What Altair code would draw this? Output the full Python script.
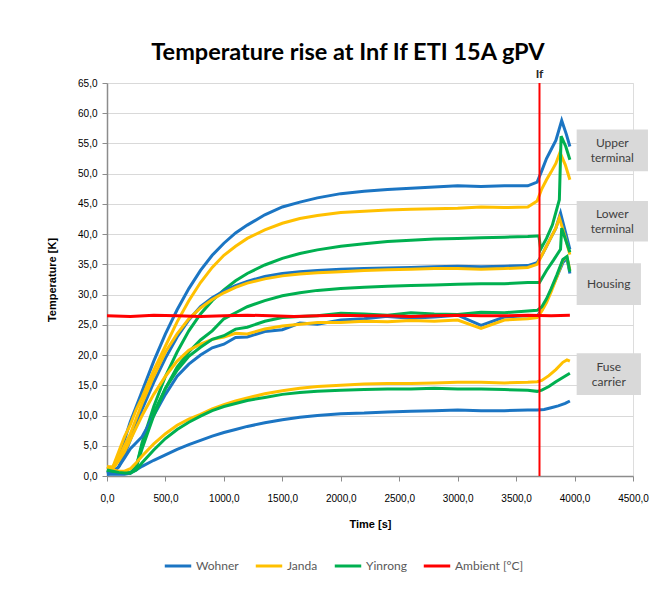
import altair as alt
import pandas as pd

# ---------------- data ----------------
T = [0, 50, 100, 150, 200, 250, 300, 400, 500, 600, 700, 800, 900, 1000, 1100,
     1200, 1350, 1500, 1650, 1800, 2000, 2200, 2400, 2600, 2800, 3000, 3200, 3400, 3600, 3680]

wohner_upper = [0.5, 1.0, 3.5, 6.0, 9.0, 11.5, 14.0, 19.0, 23.5, 27.5, 31.0, 34.0, 36.5, 38.5, 40.2,
                41.5, 43.2, 44.5, 45.3, 46.0, 46.7, 47.1, 47.4, 47.6, 47.8, 48.0, 47.9, 48.0, 48.0, 48.6]
janda_upper = [1.5, 1.5, 4.0, 6.5, 8.5, 11.0, 13.0, 17.5, 21.5, 25.5, 29.0, 32.0, 34.5, 36.5, 38.0,
               39.3, 40.7, 41.8, 42.6, 43.1, 43.6, 43.8, 44.0, 44.1, 44.2, 44.3, 44.5, 44.4, 44.5, 45.5]
yinrong_upper = [1.0, 0.8, 0.6, 0.5, 0.5, 1.5, 5.5, 11.5, 16.5, 20.5, 24.0, 26.8, 29.0, 30.8, 32.3,
                 33.5, 34.9, 36.0, 36.8, 37.4, 38.0, 38.4, 38.8, 39.0, 39.2, 39.3, 39.4, 39.5, 39.6, 39.7]

wohner_lower = [0.5, 0.8, 1.5, 3.5, 6.0, 8.5, 11.0, 15.5, 19.5, 23.0, 25.8, 28.0, 29.5, 30.6, 31.5,
                32.2, 33.0, 33.5, 33.8, 34.0, 34.2, 34.3, 34.4, 34.5, 34.6, 34.7, 34.6, 34.7, 34.8, 35.3]
janda_lower = [1.5, 1.5, 3.0, 5.0, 7.0, 9.5, 12.0, 16.5, 20.5, 23.5, 26.0, 27.8, 29.2, 30.3, 31.2,
               31.9, 32.6, 33.1, 33.4, 33.6, 33.8, 34.0, 34.1, 34.2, 34.3, 34.3, 34.2, 34.3, 34.5, 35.0]
yinrong_lower = [1.0, 0.8, 0.6, 0.5, 0.5, 1.5, 5.0, 10.5, 14.5, 18.0, 20.5, 22.5, 24.0, 26.0, 27.0,
                 28.0, 29.0, 29.8, 30.3, 30.7, 31.0, 31.2, 31.4, 31.5, 31.6, 31.7, 31.8, 31.8, 32.0, 32.0]

wohner_housing = [0.3, 0.5, 1.5, 3.0, 4.5, 5.5, 6.5, 10.0, 13.5, 16.5, 18.5, 20.0, 21.2, 21.8, 22.9,
                  23.0, 23.9, 24.2, 25.3, 25.1, 25.8, 26.0, 26.4, 26.1, 26.3, 26.6, 24.9, 26.3, 26.5, 26.4]
janda_housing = [1.5, 1.2, 2.5, 4.0, 6.0, 8.0, 10.0, 13.5, 16.5, 19.0, 20.8, 21.8, 22.6, 23.0, 23.6,
                 23.5, 24.3, 24.8, 25.1, 25.4, 25.4, 25.6, 25.5, 25.7, 25.6, 25.8, 24.4, 25.8, 26.0, 26.2]
yinrong_housing = [1.0, 0.8, 0.6, 0.5, 0.5, 1.5, 4.5, 10.0, 14.5, 17.5, 19.8, 21.3, 22.6, 23.2, 24.3,
                   24.6, 25.6, 26.2, 26.4, 26.5, 26.9, 26.8, 26.6, 27.0, 26.8, 26.7, 27.1, 27.0, 27.3, 27.4]

wohner_fuse = [0.3, 0.3, 0.3, 0.3, 0.5, 1.0, 1.6, 2.6, 3.5, 4.4, 5.2, 5.9, 6.6, 7.2, 7.7,
               8.2, 8.8, 9.3, 9.7, 10.0, 10.3, 10.4, 10.6, 10.7, 10.8, 10.9, 10.8, 10.8, 10.9, 10.9]
janda_fuse = [1.5, 1.0, 0.8, 0.8, 1.2, 2.2, 3.3, 5.3, 7.0, 8.4, 9.4, 10.2, 11.1, 11.8, 12.4,
              12.9, 13.6, 14.1, 14.5, 14.8, 15.0, 15.2, 15.3, 15.3, 15.4, 15.5, 15.5, 15.4, 15.5, 15.6]
yinrong_fuse = [1.0, 0.8, 0.6, 0.5, 0.5, 1.0, 2.2, 4.3, 6.2, 7.7, 8.9, 9.9, 10.8, 11.5, 12.0,
                12.5, 13.0, 13.5, 13.8, 14.0, 14.2, 14.3, 14.4, 14.4, 14.5, 14.4, 14.4, 14.3, 14.2, 14.0]

# after the If current is applied
wohner_upper_after_t = [3720, 3760, 3800, 3840, 3890, 3930, 3960]
wohner_upper_after_v = [50.5, 52.5, 54.0, 55.5, 58.8, 56.5, 54.5]
janda_upper_after_t = [3720, 3760, 3800, 3840, 3875, 3920, 3960]
janda_upper_after_v = [47.5, 49.0, 50.3, 51.7, 53.5, 51.5, 49.0]
yinrong_upper_after_t = [3695, 3710, 3760, 3810, 3870, 3885, 3925, 3960]
yinrong_upper_after_v = [39.7, 37.5, 39.3, 41.5, 45.7, 56.2, 54.5, 52.3]
wohner_lower_after_t = [3720, 3760, 3800, 3840, 3880, 3920, 3960]
wohner_lower_after_v = [36.5, 38.0, 39.5, 41.0, 43.5, 40.5, 37.5]
janda_lower_after_t = [3720, 3760, 3800, 3840, 3870, 3920, 3960]
janda_lower_after_v = [36.5, 38.0, 39.5, 41.0, 42.7, 39.5, 36.6]
yinrong_lower_after_t = [3700, 3760, 3820, 3880, 3890, 3925, 3960]
yinrong_lower_after_v = [32.0, 34.0, 35.7, 37.5, 41.0, 39.0, 37.0]
wohner_housing_after_t = [3720, 3760, 3800, 3850, 3900, 3935, 3960]
wohner_housing_after_v = [27.5, 29.0, 30.8, 33.0, 35.3, 36.0, 33.5]
janda_housing_after_t = [3720, 3760, 3800, 3850, 3900, 3935, 3960]
janda_housing_after_v = [27.3, 28.7, 30.5, 33.0, 35.7, 36.2, 34.0]
yinrong_housing_after_t = [3720, 3760, 3800, 3850, 3900, 3935, 3960]
yinrong_housing_after_v = [28.0, 29.3, 31.0, 33.3, 35.8, 36.3, 33.8]
wohner_fuse_after_t = [3740, 3800, 3860, 3920, 3960]
wohner_fuse_after_v = [11.0, 11.3, 11.6, 12.0, 12.4]
janda_fuse_after_t = [3720, 3780, 3840, 3900, 3935, 3960]
janda_fuse_after_v = [15.8, 16.6, 17.6, 18.8, 19.2, 19.0]
yinrong_fuse_after_t = [3720, 3780, 3840, 3900, 3960]
yinrong_fuse_after_v = [14.2, 14.8, 15.6, 16.3, 17.0]

ambient_t = [0, 200, 400, 600, 800, 1000, 1200, 1400, 1600, 1800, 2000, 2200, 2400,
             2600, 2800, 3000, 3200, 3400, 3600, 3800, 3960]
ambient_v = [26.5, 26.4, 26.6, 26.5, 26.4, 26.5, 26.6, 26.5, 26.4, 26.5, 26.6, 26.5,
             26.5, 26.4, 26.5, 26.6, 26.5, 26.5, 26.6, 26.5, 26.6]

if_time = [3700]
if_label = ["If"]

series_names = ["Wohner", "Janda", "Yinrong", "Ambient [°C]"]
series_colors = ["#1B75C3", "#FFC000", "#00B050", "#FF0000"]

ann_labels = ["Upper\nterminal", "Lower\nterminal", "Housing", "Fuse\ncarrier"]
ann_top = [57.3, 45.5, 35.2, 20.3]
ann_bottom = [50.4, 38.8, 28.3, 13.4]
ann_left = [4018, 4018, 4018, 4018]
ann_right = [4628, 4628, 4568, 4568]

x_ticks = [0, 500, 1000, 1500, 2000, 2500, 3000, 3500, 4000, 4500]
y_ticks = [0, 5, 10, 15, 20, 25, 30, 35, 40, 45, 50, 55, 60, 65]

# ---------------- table ----------------
curves = [
    ("Wohner", "upper", wohner_upper, wohner_upper_after_t, wohner_upper_after_v),
    ("Janda", "upper", janda_upper, janda_upper_after_t, janda_upper_after_v),
    ("Yinrong", "upper", yinrong_upper, yinrong_upper_after_t, yinrong_upper_after_v),
    ("Wohner", "lower", wohner_lower, wohner_lower_after_t, wohner_lower_after_v),
    ("Janda", "lower", janda_lower, janda_lower_after_t, janda_lower_after_v),
    ("Yinrong", "lower", yinrong_lower, yinrong_lower_after_t, yinrong_lower_after_v),
    ("Wohner", "housing", wohner_housing, wohner_housing_after_t, wohner_housing_after_v),
    ("Janda", "housing", janda_housing, janda_housing_after_t, janda_housing_after_v),
    ("Yinrong", "housing", yinrong_housing, yinrong_housing_after_t, yinrong_housing_after_v),
    ("Wohner", "fuse", wohner_fuse, wohner_fuse_after_t, wohner_fuse_after_v),
    ("Janda", "fuse", janda_fuse, janda_fuse_after_t, janda_fuse_after_v),
    ("Yinrong", "fuse", yinrong_fuse, yinrong_fuse_after_t, yinrong_fuse_after_v),
]
rows = []
for maker, part, vals, at, av in curves:
    for t, v in zip(T + at, vals + av):
        rows.append({"t": t, "v": v, "series": maker, "curve": maker + "-" + part})
df = pd.DataFrame(rows)
amb = pd.DataFrame({"t": ambient_t, "v": ambient_v, "series": "Ambient [°C]", "curve": "ambient"})
ifdf = pd.DataFrame({"t": if_time, "label": if_label, "lo": [0], "hi": [65]})
ann = pd.DataFrame({"label": ann_labels, "y1": ann_top, "y2": ann_bottom,
                    "x1": ann_left, "x2": ann_right})

FONT = "Lato"
fmt = "replace(format(datum.value, '.1f'), '.', ',')"

xs = alt.Scale(domain=[0, 4500], nice=False)
ys = alt.Scale(domain=[0, 65], nice=False)
color = alt.Color("series:N",
                  scale=alt.Scale(domain=series_names, range=series_colors),
                  legend=alt.Legend(title=None, orient="none", direction="horizontal",
                                    legendX=56, legendY=468, symbolType="stroke",
                                    symbolStrokeWidth=3, symbolSize=700, columnPadding=10,
                                    labelFont=FONT, labelFontSize=12, labelColor="#595959",
                                    labelOffset=3))

x_axis = alt.Axis(values=x_ticks, labelExpr=fmt, title="Time [s]",
                  grid=False, tickSize=5, labelPadding=12, titlePadding=15,
                  labelOverlap=False, labelFlush=False,
                  domainColor="#8C8C8C", tickColor="#8C8C8C", domainWidth=1.5)
y_axis = alt.Axis(values=y_ticks, labelExpr=fmt, title="Temperature [K]",
                  grid=True, gridColor="#D9D9D9", tickSize=5, labelPadding=5, titlePadding=20,
                  labelOverlap=False, labelFlush=False,
                  domainColor="#8C8C8C", tickColor="#8C8C8C", domainWidth=1.5)


def X(field):
    return alt.X(field, scale=xs, axis=x_axis)


def Y(field):
    return alt.Y(field, scale=ys, axis=y_axis)


lines = alt.Chart(df).mark_line(strokeWidth=3).encode(
    x=X("t:Q"), y=Y("v:Q"), color=color, detail="curve:N", order="t:Q",
)
amb_line = alt.Chart(amb).mark_line(strokeWidth=3).encode(
    x=X("t:Q"), y=Y("v:Q"), color=color, detail="curve:N", order="t:Q",
)

if_rule = alt.Chart(ifdf).mark_rule(color="#FF0000", strokeWidth=2).encode(
    x=X("t:Q"), y=Y("lo:Q"), y2="hi:Q",
)
if_text = alt.Chart(ifdf).mark_text(font=FONT, fontSize=12, fontWeight="bold",
                                    color="#262626", dy=-9).encode(
    x=X("t:Q"), y=Y("hi:Q"), text="label:N",
)

boxes = alt.Chart(ann).mark_rect(color="#D9D9D9").encode(
    x=X("x1:Q"), x2="x2:Q", y=Y("y1:Q"), y2="y2:Q",
)
ann_centre = alt.Chart(ann).transform_calculate(
    xc="(datum.x1 + datum.x2) / 2", yc="(datum.y1 + datum.y2) / 2"
)
two_line = ann_centre.transform_filter("indexof(datum.label, '\\n') >= 0").mark_text(
    font=FONT, fontSize=12, color="#404040", lineBreak="\n", lineHeight=15, dy=-7
).encode(x=X("xc:Q"), y=Y("yc:Q"), text="label:N")
one_line = ann_centre.transform_filter("indexof(datum.label, '\\n') < 0").mark_text(
    font=FONT, fontSize=12, color="#404040"
).encode(x=X("xc:Q"), y=Y("yc:Q"), text="label:N")

chart = alt.layer(boxes, two_line, one_line, lines, amb_line, if_rule, if_text).properties(
    width=526, height=393,
    autosize=alt.AutoSizeParams(type="none"),
    padding={"left": 99, "top": 75, "right": 24, "bottom": 100},
    title=alt.TitleParams("Temperature rise at Inf If ETI 15A gPV", font=FONT, fontSize=23.5,
                          fontWeight="bold", color="#000000", anchor="middle", dx=-22, offset=4),
).configure_view(stroke=None).configure_axis(
    labelFont=FONT, labelFontSize=12, labelColor="#595959",
    titleFont=FONT, titleFontSize=12, titleFontWeight="bold", titleColor="#000000",
).configure(background="white")

chart.save("out.html", embed_options={"renderer": "svg", "actions": False})
